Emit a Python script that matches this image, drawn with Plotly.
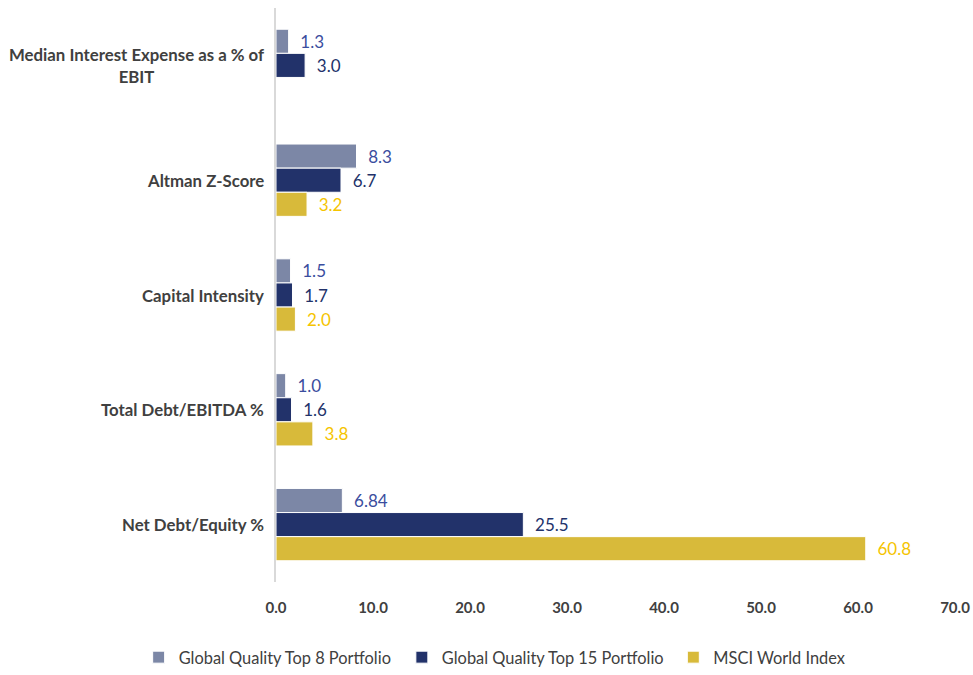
import plotly.graph_objects as go

categories = [
    "Median Interest Expense as a % of<br>EBIT",
    "Altman Z-Score",
    "Capital Intensity",
    "Total Debt/EBITDA %",
    "Net Debt/Equity %",
]
top8_values = [1.3, 8.3, 1.5, 1.0, 6.84]
top15_values = [3.0, 6.7, 1.7, 1.6, 25.5]
msci_values = [None, 3.2, 2.0, 3.8, 60.8]
x_ticks = [0, 10, 20, 30, 40, 50, 60, 70]

series = [
    ("Global Quality Top 8 Portfolio", top8_values, "#7c87a6", "#3a4d9e", "legend", 0.1425),
    ("Global Quality Top 15 Portfolio", top15_values, "#22326a", "#22326a", "legend2", 0.413),
    ("MSCI World Index", msci_values, "#d8ba3a", "#f5c400", "legend3", 0.692),
]

FONT = "Lato"


def fmt(v):
    if v is None:
        return ""
    return f"{v:.1f}" if round(v, 1) == v else f"{v:.2f}"


fig = go.Figure()
legend_layouts = {}
for name, vals, bar_color, text_color, legend_id, legend_x in series:
    fig.add_trace(go.Bar(
        name=name,
        y=categories,
        x=vals,
        orientation="h",
        legend=legend_id,
        marker=dict(color=bar_color, line=dict(color="white", width=1)),
        text=["\u00a0\u00a0" + fmt(v) if v is not None else "" for v in vals],
        textposition="outside",
        cliponaxis=False,
        textfont=dict(family=FONT, size=17, color=text_color),
    ))
    legend_layouts[legend_id] = dict(
        orientation="h", xref="container", yref="container",
        x=legend_x, xanchor="left", y=-0.004, yanchor="bottom",
        font=dict(family=FONT, size=16.4, color="#404040"),
        bgcolor="rgba(0,0,0,0)",
    )

# category labels as centred multi-line annotations
for cat in categories:
    fig.add_annotation(
        x=0, xref="paper", y=cat, yref="y",
        text="<b>" + cat + "</b>", showarrow=False,
        xanchor="right", align="center", xshift=-10,
        font=dict(family=FONT, size=16.8, color="#404040"),
    )

fig.update_layout(
    width=973, height=675,
    margin=dict(l=276, r=18, t=8, b=93, autoexpand=False),
    paper_bgcolor="white", plot_bgcolor="white",
    barmode="group", bargap=0.37, bargroupgap=0,
    showlegend=True,
    xaxis=dict(
        range=[0, 70], tickvals=x_ticks,
        ticktext=[f"<b>{t:.1f}</b>" for t in x_ticks],
        tickfont=dict(family=FONT, size=15, color="#404040"),
        showgrid=False, zeroline=False, showline=False,
        ticks="outside", ticklen=12, tickcolor="rgba(0,0,0,0)",
        ticklabeloverflow="allow", automargin=False,
    ),
    yaxis=dict(
        autorange="reversed", showticklabels=False,
        showgrid=False, zeroline=False,
        showline=True, linecolor="#d9d9d9", linewidth=2,
    ),
    **legend_layouts,
)

fig.write_html("out.html")
